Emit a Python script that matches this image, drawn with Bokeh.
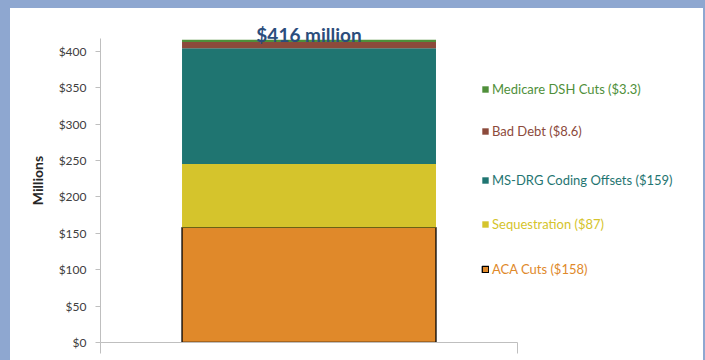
from bokeh.plotting import figure
from bokeh.models import (Range1d, FixedTicker, Legend, LegendItem, NumeralTickFormatter,
                          CustomJSTickFormatter)
from bokeh.layouts import column
from bokeh.core.properties import value
from bokeh.embed import file_html
from bokeh.resources import INLINE

# ---- data ----
categories = ["Total"]
series_names = ["ACA Cuts", "Sequestration", "MS-DRG Coding Offsets", "Bad Debt", "Medicare DSH Cuts"]
series_values = [158, 87, 159, 8.6, 3.3]
legend_labels = ["ACA Cuts ($158)", "Sequestration ($87)", "MS-DRG Coding Offsets ($159)",
                 "Bad Debt ($8.6)", "Medicare DSH Cuts ($3.3)"]
colors = ["#e0892a", "#d5c42c", "#1f7571", "#8c4a3b", "#4f8f3a"]
total_label = "$416 million"
y_ticks = [0, 50, 100, 150, 200, 250, 300, 350, 400]

FONT = "Lato"

p = figure(width=693, height=352, output_backend="svg", toolbar_location=None,
           x_range=Range1d(0, 1.422), y_range=Range1d(0, 445),
           min_border_left=90, min_border_right=10, min_border_top=10, min_border_bottom=18,
           background_fill_color="white", border_fill_color="white")
p.outline_line_color = None
p.margin = (8, 2, 0, 10)
p.styles = {"background-color": "white"}
p.grid.visible = False

# stacked bar
bottoms = []
acc = 0.0
for v in series_values:
    bottoms.append(acc)
    acc += v
renderers = []
for i in range(len(series_values)):
    r = p.vbar(x=[0.5], width=0.609, bottom=[bottoms[i]], top=[bottoms[i] + series_values[i]],
               fill_color=colors[i],
               line_color="black" if i == 0 else None, line_width=1.3)
    renderers.append(r)

# total label
p.text(x=[0.5], y=[acc], text=[total_label], text_align="center", text_baseline="alphabetic",
       text_font=value(FONT), text_font_style="bold", text_font_size="19px", text_color="#2b4d7c",
       y_offset=-5)

# axes
p.xaxis.bounds = (0, 1)
p.xaxis.ticker = FixedTicker(ticks=[0, 1])
p.xaxis.major_tick_out = 11
p.xaxis.major_tick_in = 0
p.xaxis.minor_tick_line_color = None
p.xaxis.axis_line_color = "#bfbfbf"
p.xaxis.major_tick_line_color = "#bfbfbf"
p.xaxis.formatter = CustomJSTickFormatter(code="return ''")
p.xaxis.major_label_standoff = 0
p.xaxis.major_label_text_font_size = "1px"

p.yaxis.bounds = (0, 418)
p.yaxis.ticker = FixedTicker(ticks=y_ticks)
p.yaxis.formatter = NumeralTickFormatter(format="$0")
p.yaxis.major_tick_out = 5
p.yaxis.major_tick_in = 0
p.yaxis.minor_tick_line_color = None
p.yaxis.axis_line_color = "#bfbfbf"
p.yaxis.major_tick_line_color = "#bfbfbf"
p.yaxis.major_label_text_font = FONT
p.yaxis.major_label_text_font_size = "12px"
p.yaxis.major_label_text_color = "#404040"
p.yaxis.major_label_standoff = 9
p.yaxis.axis_label = "Millions"
p.yaxis.axis_label_text_font = FONT
p.yaxis.axis_label_text_font_style = "bold"
p.yaxis.axis_label_text_font_size = "14px"
p.yaxis.axis_label_text_color = "#262626"
p.yaxis.axis_label_standoff = 10

# legends (one per entry so each label can carry its own colour)
legend_y = [65, 110, 154, 203, 245]
for i in range(len(series_values)):
    lg = Legend(items=[LegendItem(label=legend_labels[i], renderers=[renderers[i]])],
                location=(381, legend_y[i]), padding=0, margin=0, border_line_color=None,
                background_fill_color=None, glyph_width=8, glyph_height=8,
                label_standoff=3, label_height=12, label_text_font=FONT, label_text_font_size="13px",
                label_text_color=colors[i])
    p.add_layout(lg)

layout = column(p, styles={"background-color": "#8ea7d0"})
open("out.html", "w").write(file_html(layout, INLINE))
